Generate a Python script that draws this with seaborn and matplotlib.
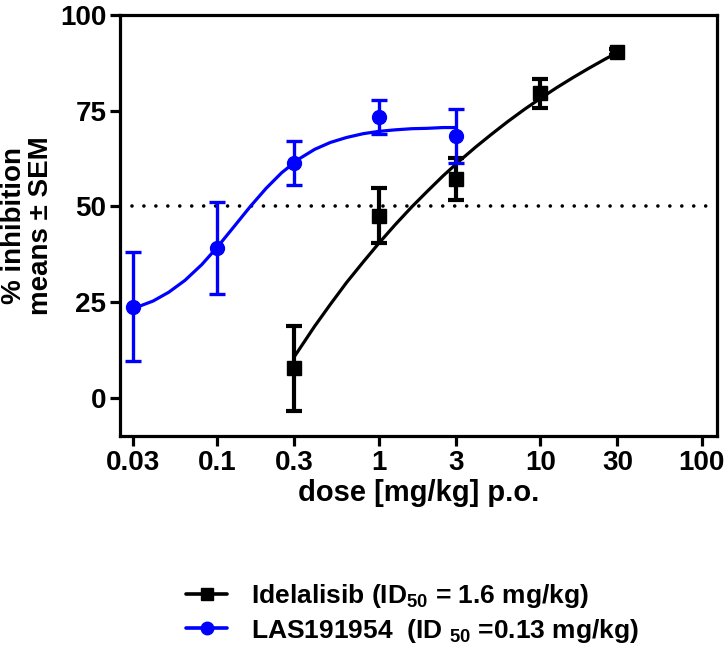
import numpy as np
import pandas as pd
import seaborn as sns
import matplotlib.pyplot as plt
from matplotlib.lines import Line2D

# measured means +- SEM
ide_dose = [0.3, 1, 3, 10, 30]
ide_mean = [7.7, 47.6, 57.2, 79.5, 90.3]
ide_sem = [11.2, 7.1, 5.5, 3.7, 0.8]

las_dose = [0.03, 0.1, 0.3, 1, 3]
las_mean = [23.8, 39.1, 61.3, 73.3, 68.4]
las_sem = [14.2, 12.0, 5.7, 4.5, 7.0]

# fitted curves
ide_fit_dose = [0.3, 0.4, 0.5, 0.63, 0.8, 1, 1.26, 1.6, 2, 2.5, 3.2, 4, 5, 6.3, 8,
                10, 12.6, 16, 20, 25, 30]
ide_fit = [10.8, 18.7, 24.4, 30.1, 35.5, 40.4, 45.2, 49.9, 54.0, 58.0, 62.1, 65.6,
           68.9, 72.2, 75.4, 78.2, 81.0, 83.7, 86.1, 88.4, 90.2]
las_fit_dose = [0.03, 0.04, 0.05, 0.063, 0.08, 0.1, 0.126, 0.16, 0.2, 0.25, 0.32,
                0.4, 0.5, 0.63, 0.8, 1, 1.26, 1.6, 2, 2.5, 3]
las_fit = [23.3, 25.3, 27.6, 30.7, 34.8, 39.4, 44.6, 50.0, 54.7, 58.8, 62.4, 64.9,
           66.7, 68.0, 69.0, 69.6, 70.0, 70.3, 70.4, 70.6, 70.6]

x_ticks = [0.03, 0.1, 0.3, 1, 3, 10, 30, 100]
x_tick_labels = ['0.03', '0.1', '0.3', '1', '3', '10', '30', '100']
y_ticks = [0, 25, 50, 75, 100]

labels = [r'Idelalisib (ID$_{\mathbf{50}}$ = 1.6 mg/kg)',
          r'LAS191954  (ID $_{\mathbf{50}}$ =0.13 mg/kg)']
BLUE = '#0000ff'

sns.set_style('ticks')
plt.rcParams['font.family'] = ['Liberation Sans', 'DejaVu Sans']
plt.rcParams['font.weight'] = 'bold'
plt.rcParams['text.color'] = 'black'
plt.rcParams['axes.labelcolor'] = 'black'
plt.rcParams['mathtext.fontset'] = 'custom'
plt.rcParams['mathtext.bf'] = 'Liberation Sans:bold'
plt.rcParams['mathtext.rm'] = 'Liberation Sans:bold'

fig = plt.figure(figsize=(7.24, 6.51), dpi=100)
ax = fig.add_axes([0.166, 0.330, 0.825, 0.647])

ax.axhline(50, color='black', lw=2.6, ls=(0, (0.01, 3.3)), dash_capstyle='round', zorder=1)

fits = pd.DataFrame({'dose': ide_fit_dose, 'inh': ide_fit})
sns.lineplot(data=fits, x='dose', y='inh', color='black', lw=2.3, ax=ax, zorder=2)
ax.errorbar(ide_dose, ide_mean, yerr=ide_sem, fmt='s', color='black', ms=10,
            elinewidth=3, capsize=5.8, capthick=3, zorder=3)

fitl = pd.DataFrame({'dose': las_fit_dose, 'inh': las_fit})
sns.lineplot(data=fitl, x='dose', y='inh', color=BLUE, lw=2.3, ax=ax, zorder=4)
ax.errorbar(las_dose, las_mean, yerr=las_sem, fmt='o', color=BLUE, ms=10,
            elinewidth=2.4, capsize=5.8, capthick=2.4, zorder=5)

ax.set_xscale('log')
ax.set_xlim(0.025, 125)
ax.set_ylim(-10, 100)
ax.set_xticks(x_ticks)
ax.set_xticklabels(x_tick_labels)
ax.minorticks_off()
ax.set_yticks(y_ticks)
ax.tick_params(axis='both', direction='out', length=7, width=2.3, labelsize=20,
               pad=3, color='black', labelcolor='black')
for s in ax.spines.values():
    s.set_linewidth(2.3)
    s.set_color('black')
for t in ax.get_xticklabels() + ax.get_yticklabels():
    t.set_fontweight('bold')

ax.set_xlabel('dose [mg/kg] p.o.', fontsize=21, fontweight='bold', labelpad=2)
ax.set_ylabel('% inhibition\nmeans \u00b1 SEM', fontsize=20, fontweight='bold',
              labelpad=4, linespacing=1.05)

handles = [Line2D([], [], color='black', marker='s', ms=9, lw=2.6),
           Line2D([], [], color=BLUE, marker='o', ms=9, lw=2.6)]
fig.legend(handles, labels, loc='upper left', bbox_to_anchor=(0.257, 0.106),
           frameon=False, handlelength=1.55, handletextpad=0.9, labelspacing=0.25,
           prop={'family': 'Liberation Sans', 'weight': 'bold', 'size': 19},
           borderaxespad=0, borderpad=0)

fig.savefig('out.png', dpi=100)
